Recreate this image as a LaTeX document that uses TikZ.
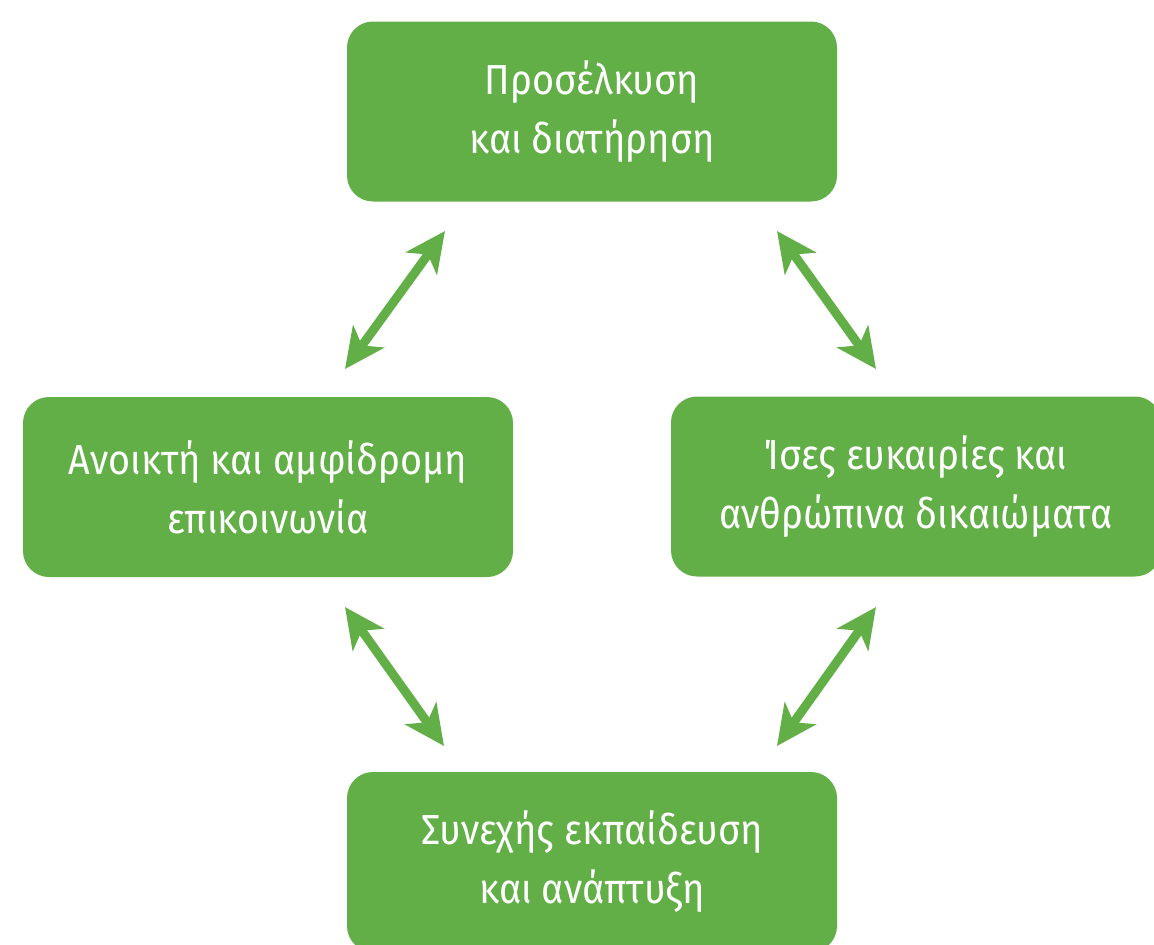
\documentclass[tikz,border=0pt]{standalone}
\usepackage{fontspec}
\setmainfont{Fira Sans}[FakeStretch=0.9]
\usetikzlibrary{arrows.meta}
\definecolor{boxgreen}{RGB}{99,175,71}
\tikzset{
  greenbox/.style={fill=boxgreen, rounded corners=26pt, minimum width=490pt, minimum height=180pt,
    text=white, align=center, inner sep=0pt, font=\fontsize{42}{59}\selectfont},
  dblarrow/.style={draw=boxgreen, line width=9pt,
    {Stealth[length=40pt,width=38pt,inset=11pt]}-{Stealth[length=40pt,width=38pt,inset=11pt]}}
}
\begin{document}
\begin{tikzpicture}[x=1pt,y=-1pt]
\useasboundingbox (0,0) rectangle (1154,945);
\clip (0,0) rectangle (1154,945);
\node[greenbox] (top) at (592,111.5) {Προσέλκυση\\και διατήρηση};
\node[greenbox] (left) at (268,487) {Ανοικτή και αμφίδρομη\\επικοινωνία};
\node[greenbox] (right) at (916,486.5) {Ίσες ευκαιρίες και\\ανθρώπινα δικαιώματα};
\node[greenbox] (bottom) at (592,862) {Συνεχής εκπαίδευση\\και ανάπτυξη};
\coordinate (a1) at (445,231);
\coordinate (a2) at (345,369);
\coordinate (b1) at (777,231);
\coordinate (b2) at (876,369);
\coordinate (c1) at (345,607);
\coordinate (c2) at (444,746);
\coordinate (d1) at (876,607);
\coordinate (d2) at (777,746);
\draw[dblarrow] (a1) -- (a2);
\draw[dblarrow] (b1) -- (b2);
\draw[dblarrow] (c1) -- (c2);
\draw[dblarrow] (d1) -- (d2);
\end{tikzpicture}
\end{document}
